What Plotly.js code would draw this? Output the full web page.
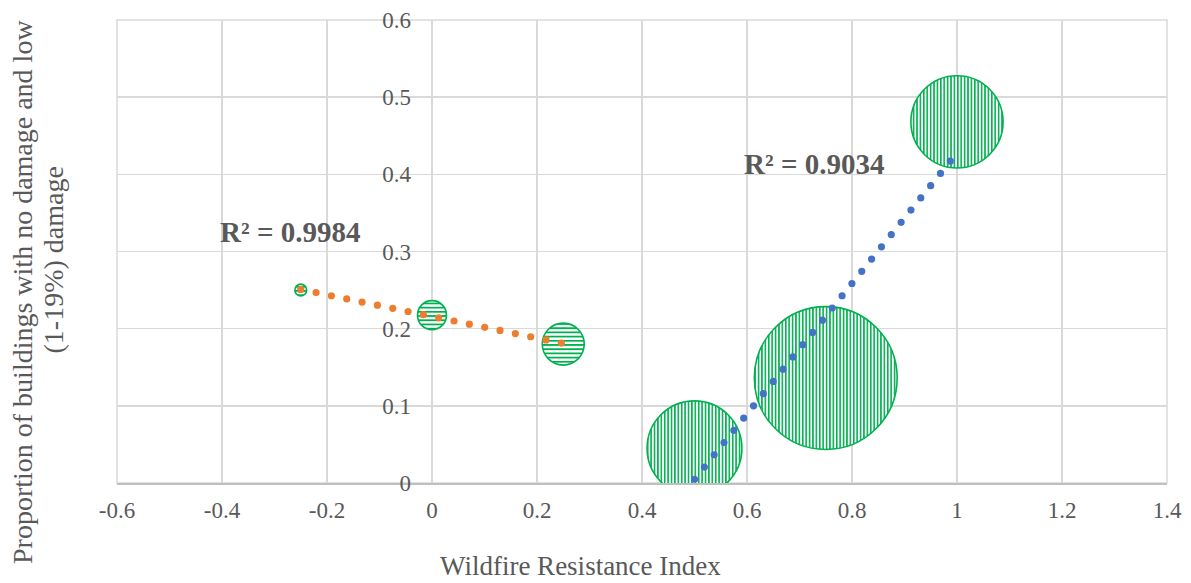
<!DOCTYPE html>
<html>
<head>
<meta charset="utf-8">
<script src="https://cdn.plot.ly/plotly-3.0.1.min.js"></script>
<style>html,body{margin:0;padding:0;background:#fff}</style>
</head>
<body>
<div id="chart" style="width:1191px;height:583px"></div>
<script>
// Low-resistance group (horizontal hatch, orange trend)
const lowX = [-0.25, 0, 0.25];
const lowY = [0.25, 0.2175, 0.18];
const lowSize = [1.4, 8.4, 17.6];
// High-resistance group (vertical hatch, blue trend)
const highX = [0.5, 0.75, 1.0];
const highY = [0.045, 0.136, 0.468];
const highSize = [90, 204, 85];
// Axis ticks and trend labels
const xTicks = [-0.6, -0.4, -0.2, 0, 0.2, 0.4, 0.6, 0.8, 1, 1.2, 1.4];
const yTicks = [0, 0.1, 0.2, 0.3, 0.4, 0.5, 0.6];
const r2Labels = ['R² = 0.9984', 'R² = 0.9034'];

const GREY = '#595959';
const GREEN = '#00b050';
const FONT = 'Liberation Serif';

// ordinary least squares line through one group
function fit(xs, ys) {
  const n = xs.length;
  const mx = xs.reduce((a, b) => a + b, 0) / n;
  const my = ys.reduce((a, b) => a + b, 0) / n;
  let sxy = 0, sxx = 0;
  for (let i = 0; i < n; i++) { sxy += (xs[i] - mx) * (ys[i] - my); sxx += (xs[i] - mx) ** 2; }
  const slope = sxy / sxx;
  return { slope, intercept: my - slope * mx };
}
function trendLine(xs, ys, color, gap) {
  const f = fit(xs, ys);
  const x0 = Math.min(...xs), x1 = Math.max(...xs);
  return {
    type: 'scatter', mode: 'lines', x: [x0, x1],
    y: [f.intercept + f.slope * x0, f.intercept + f.slope * x1],
    line: { color: color, width: 7.2, dash: '0px,' + gap + 'px' },
    hoverinfo: 'skip', showlegend: false
  };
}
function bubbles(xs, ys, sizes) {
  return {
    type: 'scatter', mode: 'markers', x: xs, y: ys,
    marker: { size: sizes, sizemode: 'area', sizeref: 0.02, color: '#ffffff', opacity: 1,
              line: { color: GREEN, width: 1.6 } },
    showlegend: false
  };
}

const data = [
  bubbles(lowX, lowY, lowSize),
  bubbles(highX, highY, highSize),
  trendLine(lowX, lowY, '#ed7d31', 15.65),
  trendLine(highX, highY, '#4472c4', 15.7)
];

const tickFont = { family: FONT, size: 23, color: GREY };
const layout = {
  width: 1191, height: 583,
  margin: { l: 117, r: 24, t: 20, b: 100 },
  paper_bgcolor: '#ffffff', plot_bgcolor: '#ffffff',
  showlegend: false,
  font: { family: FONT, color: GREY },
  xaxis: {
    range: [-0.6, 1.4], tickmode: 'array', tickvals: xTicks, ticktext: xTicks.map(String),
    showgrid: true, gridcolor: '#d9d9d9', gridwidth: 1.5, zeroline: false,
    showline: true, linecolor: '#bfbfbf', linewidth: 1.5,
    ticks: '', tickfont: tickFont, ticklabelstandoff: 6, fixedrange: true
  },
  yaxis: {
    range: [0, 0.6], tickmode: 'array', tickvals: yTicks, ticktext: yTicks.map(String),
    anchor: 'free', position: 0.3,
    showgrid: true, gridcolor: '#d9d9d9', gridwidth: 1.5, zeroline: false, showline: false,
    ticks: '', tickfont: tickFont, ticklabelstandoff: 21, fixedrange: true
  },
  shapes: [{
    type: 'rect', xref: 'paper', yref: 'paper', x0: 0, x1: 1, y0: 0, y1: 1,
    line: { color: '#d9d9d9', width: 1.5 }, layer: 'below'
  }],
  annotations: [
    { xref: 'x', yref: 'y', x: -0.2705, y: 0.325, text: r2Labels[0], showarrow: false,
      xanchor: 'center', yanchor: 'middle',
      font: { family: FONT, size: 29, color: GREY, weight: 'bold' } },
    { xref: 'x', yref: 'y', x: 0.7276, y: 0.413, text: r2Labels[1], showarrow: false,
      xanchor: 'center', yanchor: 'middle',
      font: { family: FONT, size: 29, color: GREY, weight: 'bold' } },
    { xref: 'paper', yref: 'paper', x: 0.441, y: -0.1793, text: 'Wildfire Resistance Index',
      xanchor: 'center', yanchor: 'middle',
      showarrow: false, font: { family: FONT, size: 27, color: GREY } },
    { xref: 'paper', yref: 'paper', x: -0.0905, y: 0.4125, textangle: -90,
      xanchor: 'center', yanchor: 'middle',
      text: 'Proportion of buildings with no damage and low',
      showarrow: false, font: { family: FONT, size: 28, color: GREY } },
    { xref: 'paper', yref: 'paper', x: -0.0605, y: 0.4816, textangle: -90,
      xanchor: 'center', yanchor: 'middle',
      text: '(1-19%) damage',
      showarrow: false, font: { family: FONT, size: 28, color: GREY } }
  ]
};

Plotly.newPlot('chart', data, layout, { staticPlot: true, displayModeBar: false }).then(function (gd) {
  const NS = 'http://www.w3.org/2000/svg';
  const svg = gd.querySelector('.main-svg');
  let defs = svg.querySelector('defs');
  if (!defs) { defs = document.createElementNS(NS, 'defs'); svg.insertBefore(defs, svg.firstChild); }
  function addPattern(id, w, h, stripe) {
    const p = document.createElementNS(NS, 'pattern');
    p.setAttribute('id', id);
    p.setAttribute('patternUnits', 'userSpaceOnUse');
    p.setAttribute('width', w);
    p.setAttribute('height', h);
    const bg = document.createElementNS(NS, 'rect');
    bg.setAttribute('width', w); bg.setAttribute('height', h); bg.setAttribute('fill', '#ffffff');
    const s = document.createElementNS(NS, 'rect');
    Object.keys(stripe).forEach(k => s.setAttribute(k, stripe[k]));
    s.setAttribute('fill', GREEN);
    p.appendChild(bg); p.appendChild(s);
    defs.appendChild(p);
  }
  addPattern('hatchH', 8, 4.2, { x: 0, y: 0, width: 8, height: 1.8 });
  addPattern('hatchV', 3.4, 8, { x: 0, y: 0, width: 1.6, height: 8 });

  const traces = gd.querySelectorAll('.scatterlayer .trace');
  traces[0].querySelectorAll('path.point').forEach(p => { p.style.fill = 'url(#hatchH)'; });
  traces[1].querySelectorAll('path.point').forEach(p => { p.style.fill = 'url(#hatchV)'; });
  [traces[2], traces[3]].forEach(t => {
    t.querySelectorAll('path.js-line').forEach(p => { p.style.strokeLinecap = 'round'; });
  });
});
</script>
</body>
</html>
